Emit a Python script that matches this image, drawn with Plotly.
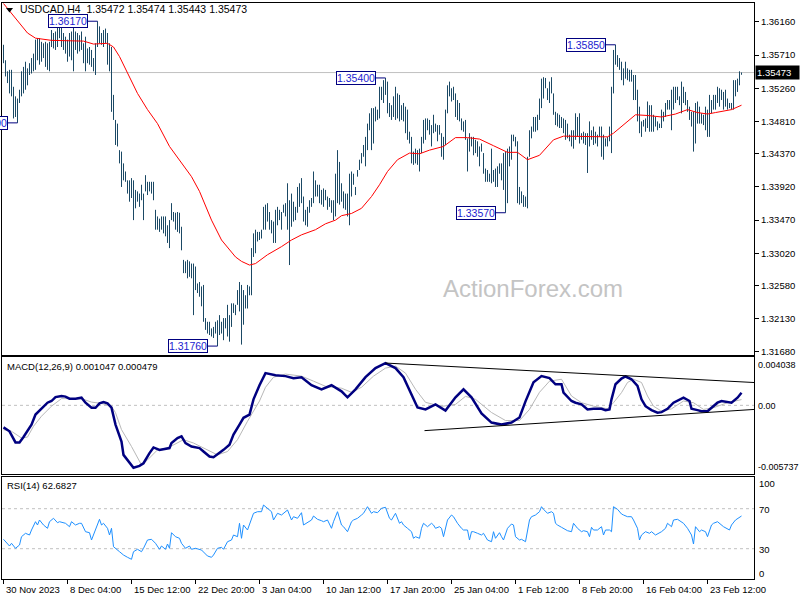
import plotly.graph_objects as go

# ---------------- data ----------------
title_text = "USDCAD,H4"
last_ohlc = [1.35472, 1.35474, 1.35443, 1.35473]
last_close = 1.35473

highs = [
1.3585,1.3564,1.3549,1.3551,1.3551,1.3528,1.3515,1.3512,1.3524,1.3549,
1.3555,1.3562,1.3553,1.3560,1.3567,1.3573,1.3592,1.3594,1.3594,1.3589,
1.3587,1.3589,1.3587,1.3589,1.3605,1.3601,1.3603,1.3610,1.3614,1.3612,
1.3601,1.3596,1.3592,1.3601,1.3603,1.3610,1.3603,1.3601,1.3598,1.3603,
1.3587,1.3596,1.3580,1.3582,1.3578,1.3567,1.3587,1.3617,1.3610,1.3601,
1.3605,1.3607,1.3601,1.3587,1.3582,1.3517,1.3483,1.3478,1.3442,1.3440,
1.3424,1.3413,1.3401,1.3401,1.3404,1.3401,1.3388,1.3386,1.3383,1.3395,
1.3383,1.3408,1.3399,1.3399,1.3399,1.3399,1.3361,1.3352,1.3349,1.3352,
1.3352,1.3352,1.3340,1.3347,1.3370,1.3358,1.3357,1.3358,1.3357,1.3338,
1.3293,1.3291,1.3293,1.3291,1.3288,1.3288,1.3284,1.3261,1.3263,1.3257,
1.3259,1.3214,1.3209,1.3209,1.3200,1.3202,1.3209,1.3211,1.3218,1.3209,
1.3214,1.3214,1.3232,1.3218,1.3234,1.3234,1.3232,1.3252,1.3263,1.3259,
1.3252,1.3245,1.3259,1.3257,1.3309,1.3329,1.3334,1.3331,1.3331,1.3334,
1.3365,1.3368,1.3370,1.3358,1.3347,1.3345,1.3361,1.3365,1.3361,1.3358,
1.3368,1.3370,1.3397,1.3374,1.3383,1.3372,1.3365,1.3392,1.3397,1.3404,
1.3379,1.3361,1.3365,1.3374,1.3377,1.3413,1.3401,1.3395,1.3395,1.3388,
1.3390,1.3388,1.3379,1.3377,1.3374,1.3374,1.3410,1.3442,1.3426,1.3397,
1.3386,1.3383,1.3383,1.3410,1.3413,1.3410,1.3392,1.3415,1.3429,1.3438,
1.3449,1.3460,1.3478,1.3492,1.3499,1.3499,1.3501,1.3497,1.3528,1.3528,
1.3537,1.3540,1.3535,1.3506,1.3503,1.3515,1.3528,1.3519,1.3517,1.3503,
1.3506,1.3501,1.3497,1.3467,1.3460,1.3440,1.3444,1.3442,1.3444,1.3460,
1.3483,1.3485,1.3485,1.3483,1.3476,1.3490,1.3478,1.3476,1.3476,1.3465,
1.3460,1.3497,1.3530,1.3535,1.3526,1.3528,1.3519,1.3510,1.3506,1.3485,
1.3481,1.3483,1.3458,1.3465,1.3460,1.3460,1.3456,1.3454,1.3447,1.3451,
1.3438,1.3417,1.3415,1.3410,1.3444,1.3415,1.3417,1.3420,1.3424,1.3424,
1.3438,1.3440,1.3444,1.3447,1.3463,1.3463,1.3460,1.3454,1.3392,1.3386,
1.3381,1.3379,1.3433,1.3469,1.3474,1.3487,1.3487,1.3490,1.3512,1.3539,
1.3541,1.3540,1.3526,1.3535,1.3541,1.3519,1.3494,1.3492,1.3490,1.3487,
1.3485,1.3483,1.3478,1.3463,1.3469,1.3469,1.3492,1.3487,1.3492,1.3465,
1.3467,1.3465,1.3465,1.3481,1.3469,1.3474,1.3467,1.3463,1.3474,1.3474,
1.3463,1.3458,1.3460,1.3474,1.3528,1.3578,1.3585,1.3571,1.3567,1.3562,
1.3553,1.3562,1.3553,1.3551,1.3551,1.3544,1.3544,1.3524,1.3501,1.3481,
1.3483,1.3485,1.3508,1.3503,1.3503,1.3490,1.3487,1.3481,1.3478,1.3497,
1.3494,1.3506,1.3510,1.3510,1.3524,1.3528,1.3528,1.3528,1.3515,1.3535,
1.3528,1.3521,1.3510,1.3501,1.3494,1.3494,1.3506,1.3508,1.3501,1.3492,
1.3490,1.3501,1.3497,1.3517,1.3510,1.3517,1.3517,1.3528,1.3526,1.3524,
1.3521,1.3524,1.3512,1.3506,1.3506,1.3537,1.3537,1.3539,1.3549,1.35474,
]

lows = [
1.3560,1.3542,1.3533,1.3519,1.3515,1.3485,1.3487,1.3479,1.3506,1.3515,
1.3519,1.3524,1.3530,1.3544,1.3546,1.3549,1.3551,1.3564,1.3558,1.3562,
1.3567,1.3555,1.3551,1.3549,1.3582,1.3580,1.3578,1.3582,1.3594,1.3582,
1.3578,1.3573,1.3562,1.3569,1.3564,1.3549,1.3578,1.3573,1.3576,1.3578,
1.3560,1.3549,1.3560,1.3558,1.3555,1.3549,1.3544,1.3582,1.3587,1.3585,
1.3582,1.3587,1.3558,1.3549,1.3494,1.3483,1.3449,1.3447,1.3424,1.3392,
1.3401,1.3399,1.3383,1.3372,1.3377,1.3347,1.3363,1.3372,1.3365,1.3374,
1.3347,1.3386,1.3381,1.3386,1.3383,1.3374,1.3334,1.3334,1.3331,1.3334,
1.3329,1.3325,1.3316,1.3309,1.3347,1.3345,1.3334,1.3331,1.3329,1.3306,
1.3275,1.3275,1.3268,1.3270,1.3268,1.3218,1.3252,1.3248,1.3243,1.3230,
1.3209,1.3198,1.3193,1.3191,1.3189,1.3187,1.3193,1.3176,1.3191,1.3193,
1.3184,1.3200,1.3189,1.3182,1.3202,1.3221,1.3218,1.3232,1.3223,1.3178,
1.3205,1.3227,1.3227,1.3245,1.3245,1.3297,1.3302,1.3318,1.3320,1.3322,
1.3334,1.3334,1.3345,1.3334,1.3329,1.3316,1.3316,1.3340,1.3347,1.3334,
1.3357,1.3352,1.3334,1.3286,1.3338,1.3345,1.3347,1.3357,1.3365,1.3370,
1.3345,1.3340,1.3338,1.3357,1.3365,1.3370,1.3379,1.3379,1.3370,1.3368,
1.3365,1.3374,1.3361,1.3365,1.3357,1.3347,1.3352,1.3370,1.3368,1.3372,
1.3363,1.3361,1.3352,1.3340,1.3379,1.3395,1.3381,1.3406,1.3415,1.3424,
1.3433,1.3420,1.3442,1.3469,1.3442,1.3451,1.3481,1.3483,1.3485,1.3510,
1.3506,1.3517,1.3492,1.3487,1.3483,1.3487,1.3483,1.3485,1.3481,1.3483,
1.3481,1.3465,1.3456,1.3451,1.3424,1.3422,1.3424,1.3422,1.3413,1.3438,
1.3451,1.3456,1.3469,1.3463,1.3447,1.3465,1.3467,1.3454,1.3463,1.3433,
1.3429,1.3449,1.3492,1.3515,1.3508,1.3510,1.3487,1.3483,1.3481,1.3469,
1.3467,1.3456,1.3413,1.3440,1.3447,1.3435,1.3438,1.3433,1.3420,1.3440,
1.3410,1.3399,1.3399,1.3399,1.3397,1.3399,1.3392,1.3392,1.3410,1.3401,
1.3388,1.3357,1.3370,1.3420,1.3429,1.3454,1.3447,1.3370,1.3368,1.3370,
1.3365,1.3365,1.3363,1.3433,1.3458,1.3467,1.3467,1.3469,1.3483,1.3499,
1.3512,1.3526,1.3510,1.3506,1.3519,1.3490,1.3476,1.3474,1.3472,1.3472,
1.3465,1.3456,1.3458,1.3454,1.3447,1.3444,1.3456,1.3460,1.3451,1.3456,
1.3451,1.3449,1.3411,1.3447,1.3456,1.3449,1.3451,1.3447,1.3460,1.3433,
1.3429,1.3447,1.3447,1.3454,1.3438,1.3519,1.3558,1.3555,1.3551,1.3537,
1.3530,1.3539,1.3537,1.3535,1.3535,1.3510,1.3510,1.3481,1.3465,1.3460,
1.3474,1.3467,1.3472,1.3467,1.3467,1.3467,1.3474,1.3469,1.3472,1.3472,
1.3481,1.3487,1.3497,1.3497,1.3469,1.3497,1.3506,1.3510,1.3503,1.3492,
1.3506,1.3503,1.3494,1.3483,1.3474,1.3440,1.3451,1.3478,1.3478,1.3478,
1.3476,1.3469,1.3460,1.3460,1.3492,1.3497,1.3497,1.3506,1.3501,1.3510,
1.3497,1.3501,1.3497,1.3499,1.3497,1.3497,1.3515,1.3521,1.3530,1.35443,
]

# moving average (bar index, value)
ma_points = [
(0,1.3641),(12,1.3601),(16,1.3594),(24,1.3591),(40,1.3590),(45,1.3586),(52,1.3587),
(55,1.3582),(58,1.3569),(62,1.3546),(67,1.3519),(72,1.3497),(77,1.3478),(83,1.3447),
(88,1.3429),(94,1.3406),(98,1.3386),(104,1.3347),(109,1.3320),(116,1.3297),(119,1.3291),
(123,1.3286),(126,1.3288),(132,1.3300),(139,1.3311),(144,1.3320),(149,1.3327),(156,1.3334),
(161,1.3342),(166,1.3347),(169,1.3353),(174,1.3356),(179,1.3363),(184,1.3379),(188,1.3395),
(192,1.3413),(197,1.3429),(203,1.3438),(208,1.3437),(213,1.3442),(220,1.3447),(226,1.3459),
(232,1.3459),(238,1.3457),(245,1.3448),(252,1.3439),(257,1.3439),(262,1.3429),(268,1.3435),
(275,1.3456),(280,1.3461),(302,1.3460),(305,1.3465),(316,1.3490),(322,1.3489),(329,1.3487),
(336,1.3491),(342,1.3497),(347,1.3493),(352,1.3491),(356,1.3493),(364,1.3497),(369,1.3503),
]

macd_points = [
(0,-0.00184),(3,-0.00217),(6,-0.00310),(8,-0.00310),(10,-0.00265),(14,-0.00161),(16,-0.00077),
(19,-0.00029),(22,0.00022),(24,0.00036),(26,0.00069),(29,0.00078),(31,0.00073),(33,0.00056),
(36,0.00056),(39,0.00064),(41,0.00022),(44,-0.00020),(46,-0.00020),(48,0.00016),(50,0.00027),
(52,0.00016),(54,-0.00020),(56,-0.00161),(59,-0.00302),(60,-0.00414),(63,-0.00484),(65,-0.00521),
(68,-0.00506),(70,-0.00484),(73,-0.00399),(75,-0.00352),(78,-0.00372),(80,-0.00366),(83,-0.00357),
(84,-0.00315),(87,-0.00273),(89,-0.00259),(91,-0.00315),(94,-0.00344),(98,-0.00357),(100,-0.00386),
(103,-0.00428),(105,-0.00433),(108,-0.00399),(110,-0.00372),(113,-0.00329),(115,-0.00245),
(118,-0.00161),(120,-0.00104),(123,-0.00077),(125,0.00050),(128,0.00168),(131,0.00269),
(136,0.00252),(141,0.00244),(145,0.00227),(149,0.00235),(154,0.00168),(159,0.00134),(164,0.00168),
(169,0.00117),(172,0.00067),(176,0.00134),(181,0.00235),(186,0.00311),(191,0.00353),(196,0.00311),
(200,0.00235),(204,0.00092),(207,-0.00018),(211,-0.00034),(216,0.00008),(221,-0.00043),(226,0.00067),
(230,0.00134),(234,0.00067),(239,-0.00068),(244,-0.00144),(249,-0.00161),(254,-0.00144),(258,-0.00102),
(261,0.00033),(265,0.00193),(269,0.00244),(273,0.00227),(276,0.00176),(279,0.00176),(280,0.00106),
(284,0.00036),(286,0.00022),(289,0.00008),(292,-0.00034),(295,-0.00029),(299,-0.00029),(301,-0.00040),
(303,-0.00034),(304,0.00050),(306,0.00176),(309,0.00224),(311,0.00241),(314,0.00218),(317,0.00162),
(319,0.00050),(321,-0.00007),(324,-0.00040),(327,-0.00062),(329,-0.00057),(332,-0.00029),(335,0.00022),
(338,0.00050),(340,0.00064),(343,0.00036),(344,-0.00029),(347,-0.00040),(349,-0.00049),(352,-0.00049),
(354,-0.00020),(357,0.00022),(359,0.00036),(362,0.00027),(364,0.00022),(367,0.00064),(369,0.00105),
]

signal_points = [
(0,-0.00203),(4,-0.00217),(9,-0.00273),(12,-0.00265),(15,-0.00175),(19,-0.00091),(24,-0.00007),
(29,0.00056),(39,0.00056),(44,0.00027),(49,0.00016),(54,-0.00007),(56,-0.00062),(59,-0.00203),
(64,-0.00344),(69,-0.00498),(72,-0.00456),(77,-0.00372),(82,-0.00357),(87,-0.00315),(90,-0.00287),
(95,-0.00315),(102,-0.00372),(107,-0.00414),(112,-0.00386),(117,-0.00287),(122,-0.00133),
(125,-0.00049),(128,0.00036),(131,0.00151),(135,0.00235),(141,0.00261),(149,0.00244),(155,0.00202),
(161,0.00159),(169,0.00143),(174,0.00109),(179,0.00151),(185,0.00244),(191,0.00311),(196,0.00328),
(201,0.00269),(206,0.00134),(211,0.00025),(219,-0.00009),(226,0.00008),(231,0.00075),(236,0.00050),
(244,-0.00060),(251,-0.00127),(258,-0.00127),(263,-0.00034),(268,0.00109),(273,0.00202),(279,0.00218),
(284,0.00078),(289,0.00022),(295,-0.00007),(302,-0.00029),(305,0.00022),(309,0.00106),(312,0.00191),
(315,0.00218),(319,0.00191),(322,0.00078),(325,-0.00007),(329,-0.00049),(334,-0.00029),(340,0.00036),
(345,0.00022),(350,-0.00034),(355,-0.00020),(362,0.00022),(369,0.00048),
]

rsi_points = [
(0,39.4),(2,35.4),(3,32.7),(4,35.4),(6,30.4),(8,33.7),(9,42.0),(11,45.4),(13,43.7),(14,48.7),
(16,57.0),(17,53.7),(18,58.7),(20,53.7),(22,50.4),(23,57.0),(25,60.4),(27,56.0),(28,57.0),(31,55.4),
(33,52.0),(34,57.0),(36,53.7),(38,55.4),(39,55.4),(41,47.0),(43,46.0),(44,38.7),(46,48.7),(48,59.4),
(49,53.7),(50,55.4),(52,50.4),(53,43.7),(54,50.4),(55,32.0),(58,27.0),(60,23.7),(62,21.4),(64,19.4),
(65,27.0),(67,29.4),(69,27.0),(70,30.4),(72,38.7),(74,39.4),(76,35.4),(78,29.4),(79,32.7),(81,29.4),
(82,34.7),(83,30.4),(84,46.0),(86,42.0),(88,40.4),(89,35.4),(91,30.4),(93,32.7),(94,29.4),(96,30.4),
(99,28.7),(100,27.0),(102,22.7),(104,21.4),(105,23.7),(107,30.4),(109,31.4),(110,29.4),(112,37.0),
(114,38.7),(115,43.7),(117,42.0),(118,55.4),(119,40.4),(120,53.7),(122,48.7),(124,58.7),(125,65.4),
(127,67.0),(129,67.0),(130,73.7),(132,70.4),(134,67.0),(135,58.7),(137,65.4),(139,63.7),(140,65.4),
(142,68.7),(144,58.7),(145,62.0),(147,60.4),(149,66.0),(150,53.7),(152,56.0),(154,58.7),(155,62.7),
(157,59.4),(159,58.0),(160,57.0),(162,58.7),(164,50.4),(165,57.0),(167,67.0),(169,53.7),(170,52.0),
(172,47.0),(174,57.0),(175,58.7),(177,60.4),(179,63.7),(180,65.4),(182,72.0),(184,65.4),(185,67.0),
(187,66.0),(189,70.4),(191,71.4),(193,60.4),(194,58.7),(196,65.4),(198,55.4),(199,57.0),(200,53.7),
(202,50.4),(204,47.0),(205,40.4),(206,42.0),(208,40.4),(209,50.4),(210,55.4),(212,52.0),(214,55.4),
(215,53.7),(216,50.4),(218,52.0),(219,50.4),(220,42.0),(222,58.7),(224,63.7),(225,62.0),(227,55.4),
(229,50.4),(230,48.7),(232,48.7),(233,38.7),(234,47.0),(235,47.0),(237,45.4),(239,43.7),(240,45.4),
(242,38.7),(244,37.0),(245,47.0),(246,40.4),(248,46.0),(249,42.0),(250,38.7),(252,50.4),(254,54.7),
(255,53.7),(256,42.0),(258,38.7),(259,39.4),(261,37.0),(263,58.7),(264,62.0),(266,63.7),(268,67.0),
(269,72.0),(270,69.4),(272,65.4),(274,67.0),(275,65.4),(276,55.4),(277,53.7),(279,51.4),(280,50.4),
(282,48.0),(284,47.0),(285,55.4),(287,50.4),(289,47.0),(290,48.0),(292,47.0),(293,42.0),(294,51.4),
(295,48.7),(297,48.7),(299,52.0),(300,43.7),(301,48.7),(303,48.7),(304,47.0),(305,72.0),(307,69.4),
(309,64.7),(310,63.7),(312,62.0),(314,62.0),(315,58.7),(317,50.4),(318,38.7),(319,43.7),(321,47.0),
(323,45.4),(324,47.0),(326,43.7),(328,45.4),(329,47.0),(331,50.4),(332,55.4),(334,52.0),(335,58.7),
(337,59.4),(339,57.0),(340,55.4),(342,50.4),(344,43.7),(345,34.7),(346,52.0),(348,47.0),(349,48.7),
(351,47.0),(352,42.0),(354,53.7),(355,55.4),(357,57.0),(359,53.7),(360,52.0),(363,48.7),(364,53.7),
(366,58.7),(368,62.0),(369,62.7),
]

macd_last = "0.001047"
signal_last = "0.000479"
rsi_last = "62.6827"

x_tick_bars = [0, 32, 64, 96, 128, 160, 192, 224, 256, 288, 320, 352]
x_tick_labels = ["30 Nov 2023", "8 Dec 04:00", "15 Dec 12:00", "22 Dec 20:00", "3 Jan 04:00",
                 "10 Jan 12:00", "17 Jan 20:00", "25 Jan 04:00", "1 Feb 12:00", "8 Feb 20:00",
                 "16 Feb 04:00", "23 Feb 12:00"]
price_ticks = [1.3616, 1.3571, 1.3526, 1.3481, 1.3437, 1.3392, 1.3347, 1.3302, 1.3258, 1.3213, 1.3168]
macd_scale = [0.004038, 0.0, -0.005737]
rsi_scale = [100, 70, 30, 0]
rsi_levels = [70, 30]

swing_bars = [7, 47, 107, 191, 251, 306]
swing_prices = [1.3479, 1.3617, 1.3176, 1.3540, 1.3357, 1.3585]

macd_upper_line = [(191, 0.003532), (375.25, 0.001906)]
macd_lower_line = [(210.5, -0.002114), (375.25, -0.000344)]

# ---------------- layout geometry ----------------
W, H = 800, 600
L, R, T, B = 2, 46, 3, 21
PW, PH = W - L - R, H - T - B

def px(x):
    return (x - L) / PW

def py(y):
    return (H - B - y) / PH

FONT = "Liberation Sans, Arial, sans-serif"
BAR_COLOR = "#1b4965"

fig = go.Figure()

# price bars (high-low segments)
bx, by = [], []
for i, (h, l) in enumerate(zip(highs, lows)):
    bx += [i, i, None]
    by += [l, h, None]
fig.add_trace(go.Scatter(x=bx, y=by, mode="lines", line=dict(color=BAR_COLOR, width=1),
                         xaxis="x", yaxis="y", hoverinfo="skip"))

ma_x, ma_y = zip(*ma_points)
fig.add_trace(go.Scatter(x=ma_x, y=ma_y, mode="lines", line=dict(color="#ff0000", width=1),
                         xaxis="x", yaxis="y", hoverinfo="skip"))

sx, sy = zip(*signal_points)
fig.add_trace(go.Scatter(x=sx, y=sy, mode="lines", line=dict(color="#b8b8b8", width=1),
                         xaxis="x2", yaxis="y2", hoverinfo="skip"))
mx, my = zip(*macd_points)
fig.add_trace(go.Scatter(x=mx, y=my, mode="lines", line=dict(color="#000080", width=2.5),
                         xaxis="x2", yaxis="y2", hoverinfo="skip"))

rx, ry = zip(*rsi_points)
fig.add_trace(go.Scatter(x=rx, y=ry, mode="lines", line=dict(color="#1e90ff", width=1),
                         xaxis="x3", yaxis="y3", hoverinfo="skip"))

shapes = []
annotations = []

# current price line
shapes.append(dict(type="line", xref="paper", yref="y", x0=0, x1=1, y0=last_close, y1=last_close,
                   line=dict(color="#c0c0c0", width=1), layer="below"))
# dashed levels
shapes.append(dict(type="line", xref="paper", yref="y2", x0=0, x1=1, y0=0, y1=0,
                   line=dict(color="#c0c0c0", width=1, dash="3px,3px"), layer="below"))
for lv in rsi_levels:
    shapes.append(dict(type="line", xref="paper", yref="y3", x0=0, x1=1, y0=lv, y1=lv,
                       line=dict(color="#c0c0c0", width=1, dash="3px,3px"), layer="below"))
# MACD trend lines
for (a, b) in (macd_upper_line, macd_lower_line):
    shapes.append(dict(type="line", xref="x2", yref="y2", x0=a[0], y0=a[1], x1=b[0], y1=b[1],
                       line=dict(color="#000000", width=1)))

# swing labels
for bar, price in zip(swing_bars, swing_prices):
    shapes.append(dict(type="line", xref="x", yref="y", x0=bar - 5, x1=bar, y0=price, y1=price,
                       line=dict(color="#000080", width=1)))
    annotations.append(dict(x=bar - 5, y=price, xref="x", yref="y", xanchor="right", yanchor="middle",
                            text=f"{price:.5f}", showarrow=False,
                            font=dict(family=FONT, size=10.5, color="#1c1cd0"),
                            bordercolor="#000080", borderwidth=1, borderpad=0, bgcolor="#ffffff"))

# title triangle
shapes.append(dict(type="path", xref="paper", yref="paper",
                   path=f"M {px(6)} {py(8)} L {px(13)} {py(8)} L {px(9.5)} {py(12.5)} Z",
                   fillcolor="#000000", line=dict(width=0)))

annotations.append(dict(x=px(18), y=py(9.5), xref="paper", yref="paper", xanchor="left", yanchor="middle",
                        showarrow=False,
                        text=title_text + " \u00a0" + " ".join(f"{v:.5f}" for v in last_ohlc),
                        font=dict(family=FONT, size=10.5, color="#000000")))
annotations.append(dict(x=px(5), y=py(366.5), xref="paper", yref="paper", xanchor="left", yanchor="middle",
                        showarrow=False, text=f"MACD(12,26,9) {macd_last} {signal_last}",
                        font=dict(family=FONT, size=9.5, color="#000000")))
annotations.append(dict(x=px(5), y=py(485.5), xref="paper", yref="paper", xanchor="left", yanchor="middle",
                        showarrow=False, text=f"RSI(14) {rsi_last}",
                        font=dict(family=FONT, size=9.5, color="#000000")))
# watermark
annotations.append(dict(x=px(533), y=py(288), xref="paper", yref="paper", xanchor="center", yanchor="middle",
                        showarrow=False, text="ActionForex.com",
                        font=dict(family=FONT, size=24, color="#c4c4c4")))
# current price box
annotations.append(dict(x=px(755), y=last_close, xref="paper", yref="y", xanchor="left", yanchor="middle",
                        showarrow=False, text=f"{last_close:.5f}", width=41, align="left",
                        font=dict(family=FONT, size=9.5, color="#ffffff"), bgcolor="#000000",
                        borderpad=1))
# MACD scale labels
macd_label_y = [365, 406, 467]
for v, yy in zip(macd_scale, macd_label_y):
    txt = "0.00" if v == 0 else f"{v:.6f}"
    annotations.append(dict(x=px(756), y=py(yy), xref="paper", yref="paper", xanchor="left",
                            yanchor="middle", showarrow=False, text=txt,
                            font=dict(family=FONT, size=9, color="#000000")))
# RSI scale labels
rsi_label_y = [483, 509, 549, 573]
for v, yy in zip(rsi_scale, rsi_label_y):
    annotations.append(dict(x=px(757), y=py(yy), xref="paper", yref="paper", xanchor="left",
                            yanchor="middle", showarrow=False, text=str(v),
                            font=dict(family=FONT, size=9.5, color="#000000")))
# time labels
for bar, lab in zip(x_tick_bars, x_tick_labels):
    annotations.append(dict(x=bar, y=py(589), xref="x3", yref="paper", xanchor="left", yanchor="middle",
                            showarrow=False, text=lab, font=dict(family=FONT, size=9.5, color="#000000")))

xr = [-0.75, 375.25]
ax_common = dict(range=xr, showgrid=False, zeroline=False, showline=True, mirror=True,
                 linecolor="#000000", linewidth=1, showticklabels=False, fixedrange=True)
y_main = [1.36458 - 355 * 0.00013575, 1.36458 - 3 * 0.00013575]

fig.update_layout(
    width=W, height=H, margin=dict(l=L, r=R, t=T, b=B),
    paper_bgcolor="#ffffff", plot_bgcolor="#ffffff", showlegend=False, hovermode=False,
    font=dict(family=FONT, size=9.5, color="#000000"),
    xaxis=dict(domain=[0, 1], anchor="y", ticks="", **ax_common),
    xaxis2=dict(domain=[0, 1], anchor="y2", ticks="", matches="x", **ax_common),
    xaxis3=dict(domain=[0, 1], anchor="y3", ticks="outside", ticklen=4, tickcolor="#000000",
                tickvals=x_tick_bars, matches="x", **ax_common),
    yaxis=dict(domain=[py(355), py(3)], anchor="x", range=y_main, side="right",
               tickvals=price_ticks, ticktext=[f"{v:.5f}" for v in price_ticks],
               ticks="outside", ticklen=4, tickcolor="#000000",
               tickfont=dict(family=FONT, size=9.5, color="#000000"),
               showgrid=False, zeroline=False, showline=True, mirror=True,
               linecolor="#000000", linewidth=1, fixedrange=True),
    yaxis2=dict(domain=[py(474), py(357)], anchor="x2", range=[macd_scale[2], macd_scale[0]], side="right",
                showticklabels=False, ticks="", showgrid=False, zeroline=False, showline=True, mirror=True,
                linecolor="#000000", linewidth=1, fixedrange=True),
    yaxis3=dict(domain=[py(579), py(477)], anchor="x3", range=[-0.3, 101.7], side="right",
                showticklabels=False, ticks="", showgrid=False, zeroline=False, showline=True, mirror=True,
                linecolor="#000000", linewidth=1, fixedrange=True),
    shapes=shapes,
    annotations=annotations,
)

fig.write_html("out.html", config={"displayModeBar": False},
               post_script="document.body.style.margin='0';document.body.style.overflow='hidden';")
